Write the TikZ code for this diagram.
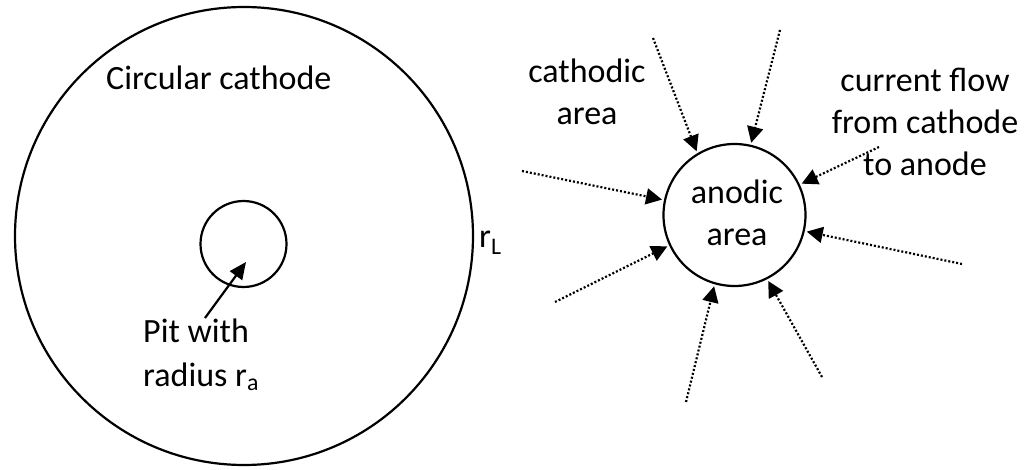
\documentclass[tikz,border=0pt]{standalone}
\usepackage{fontspec}
\setmainfont{Carlito}
\usetikzlibrary{arrows.meta}
\begin{document}
\begin{tikzpicture}[x=1pt,y=-1pt,
  lbl/.style={inner sep=0pt, font=\fontsize{34}{42}\selectfont},
  ring/.style={draw, circle, line width=2.2pt, inner sep=0pt},
  flow/.style={line width=2.2pt, dash pattern=on 2pt off 2pt, -{Triangle[length=16pt,width=16pt]}, shorten >=2pt},
  pitarrow/.style={line width=2.2pt, -{Triangle[length=17pt,width=15pt]}}]
\useasboundingbox (0,0) rectangle (1029,470);
% circles
\node[ring, minimum size=458pt] (cathode) at (244,236) {};
\node[ring, minimum size=86pt] (pit) at (243.5,244) {};
\node[ring, minimum size=142pt] (anode) at (734.5,215) {};
% texts
\node[lbl, anchor=base west] (cathlbl) at (106,90) {Circular cathode};
\node[lbl, anchor=base west] (pitlbl) at (143,343) {\begin{tabular}[t]{@{}l@{}}Pit with\\[2pt]radius r\textsubscript{a}\end{tabular}};
\node[lbl, anchor=base west] (rl) at (479,248) {r\textsubscript{L}};
\node[lbl, anchor=base] (anlbl) at (737,204) {\begin{tabular}[t]{@{}c@{}}anodic\\area\end{tabular}};
\node[lbl, anchor=base] (cdlbl) at (587,83) {\begin{tabular}[t]{@{}c@{}}cathodic\\area\end{tabular}};
\node[lbl, anchor=base] (cflbl) at (925,92) {\begin{tabular}[t]{@{}c@{}}current flow\\from cathode\\to anode\end{tabular}};
% pit arrow
\coordinate (ptail) at (205,318);
\coordinate (ptip) at (246,262);
\draw[pitarrow] (ptail) -- (ptip);
% current flow arrows
\coordinate (s1) at (653,38);
\coordinate (s2) at (780,30);
\coordinate (s3) at (879,147);
\coordinate (s4) at (522,171);
\coordinate (s5) at (962,264);
\coordinate (s6) at (555,302);
\coordinate (s7) at (686,402);
\coordinate (s8) at (822,377);
\draw[flow] (s1) -- (anode.121);
\draw[flow] (s2) -- (anode.77);
\draw[flow] (s3) -- (anode.25);
\draw[flow] (s4) -- (anode.168);
\draw[flow] (s5) -- (anode.-13);
\draw[flow] (s6) -- (anode.205);
\draw[flow] (s7) -- (anode.254);
\draw[flow] (s8) -- (anode.297);
\end{tikzpicture}
\end{document}
